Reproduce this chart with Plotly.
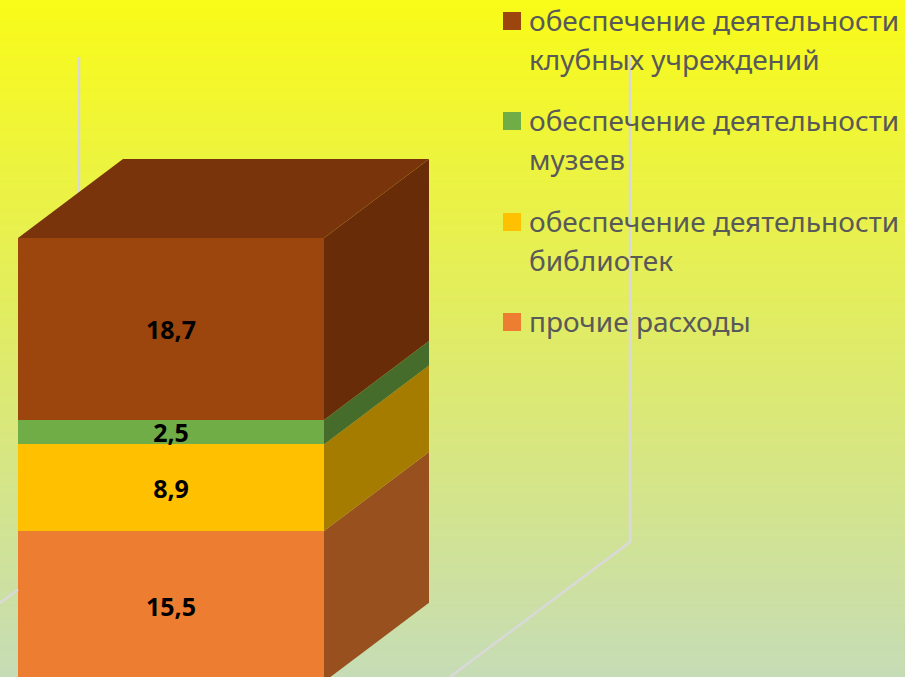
import plotly.graph_objects as go

# ---- data ----
categories = ["2023"]
series_names = ["прочие расходы", "обеспечение деятельности библиотек",
                "обеспечение деятельности музеев", "обеспечение деятельности клубных учреждений"]
series_values = [15.5, 8.9, 2.5, 18.7]
front_colors = ["#ED7D31", "#FFC000", "#70AD47", "#9C460E"]
side_colors = ["#98501E", "#A67C00", "#466C2C", "#682C08"]
top_color = "#7A340B"
legend_lines = [["обеспечение деятельности", "клубных учреждений"],
                ["обеспечение деятельности", "музеев"],
                ["обеспечение деятельности", "библиотек"],
                ["прочие расходы"]]
legend_colors = ["#9C460E", "#70AD47", "#FFC000", "#ED7D31"]

# ---- geometry of the pseudo 3D box, in axis units ----
W, H = 905, 677
PX_X = 306.0          # pixels per bar width
PX_Y = 9.73           # pixels per value unit
X0_PX, Y0_PX = 171.0, 681.8
def vx(px): return (px - X0_PX) / PX_X
def vy(py): return (Y0_PX - py) / PX_Y
DX = 105 / PX_X
DY = 79 / PX_Y
x_range = [vx(0), vx(W)]
y_range = [vy(H), vy(0)]

fig = go.Figure()

# gradient background
fig.add_trace(go.Heatmap(x=x_range, y=y_range, z=[[0, 0], [1, 1]], zsmooth="best",
                         colorscale=[[0, "#C6DCB6"], [1, "#F9FB18"]], showscale=False,
                         hoverinfo="skip"))

# wall frame
grid = "#D9D9D9"
frame = [
    ([vx(79), vx(79)], [vy(57), vy(200)]),
    ([vx(630), vx(630), vx(450)], [vy(57), vy(542), vy(677)]),
    ([vx(0), vx(18)], [vy(603), vy(589.5)]),
]
for fx, fy in frame:
    fig.add_trace(go.Scatter(x=fx, y=fy, mode="lines", line=dict(color=grid, width=2.5),
                             showlegend=False, hoverinfo="skip"))

# stacked front faces
for name, val, col in zip(series_names, series_values, front_colors):
    fig.add_trace(go.Bar(x=[0], y=[val], width=1, name=name, marker=dict(color=col, line=dict(width=0)),
                         texttemplate="%{y:.1f}", textposition="inside", insidetextanchor="middle",
                         constraintext="none", textangle=0,
                         textfont=dict(family="Noto Sans", size=25, color="black", weight="bold"),
                         showlegend=False, hoverinfo="skip"))

# side and top faces derived from the stack
base = 0.0
right = 0.5
for val, col in zip(series_values, side_colors):
    top = base + val
    fig.add_trace(go.Scatter(x=[right, right + DX, right + DX, right, right],
                             y=[base, base + DY, top + DY, top, base],
                             mode="lines", fill="toself", fillcolor=col, line=dict(width=0),
                             showlegend=False, hoverinfo="skip"))
    base = top
fig.add_trace(go.Scatter(x=[-right, right, right + DX, -right + DX, -right],
                         y=[base, base, base + DY, base + DY, base],
                         mode="lines", fill="toself", fillcolor=top_color, line=dict(width=0),
                         showlegend=False, hoverinfo="skip"))

# legend (square + text lines)
shapes, annotations = [], []
square_tops = [12, 112, 213, 313]
for lines, col, st in zip(legend_lines, legend_colors, square_tops):
    shapes.append(dict(type="rect", xref="paper", yref="paper", x0=503 / W, x1=521 / W,
                       y0=1 - st / H, y1=1 - (st + 18) / H, fillcolor=col, line=dict(width=0)))
    for i, t in enumerate(lines):
        annotations.append(dict(text=t, xref="paper", yref="paper", x=527 / W, xanchor="left",
                                y=1 - (st + 7.5 + i * 39.5) / H, yanchor="middle", showarrow=False,
                                font=dict(family="Noto Sans", size=28, color="#595959")))

fig.update_layout(
    width=W, height=H, margin=dict(l=0, r=0, t=0, b=0), barmode="stack", separators=",.",
    xaxis=dict(range=x_range, visible=False, fixedrange=True),
    yaxis=dict(range=y_range, visible=False, fixedrange=True),
    paper_bgcolor="#E0EB66", plot_bgcolor="rgba(0,0,0,0)",
    showlegend=False, shapes=shapes, annotations=annotations,
)
fig.write_html("out.html", config={"displayModeBar": False},
               post_script="document.body.style.margin='0';document.body.style.overflow='hidden';")
